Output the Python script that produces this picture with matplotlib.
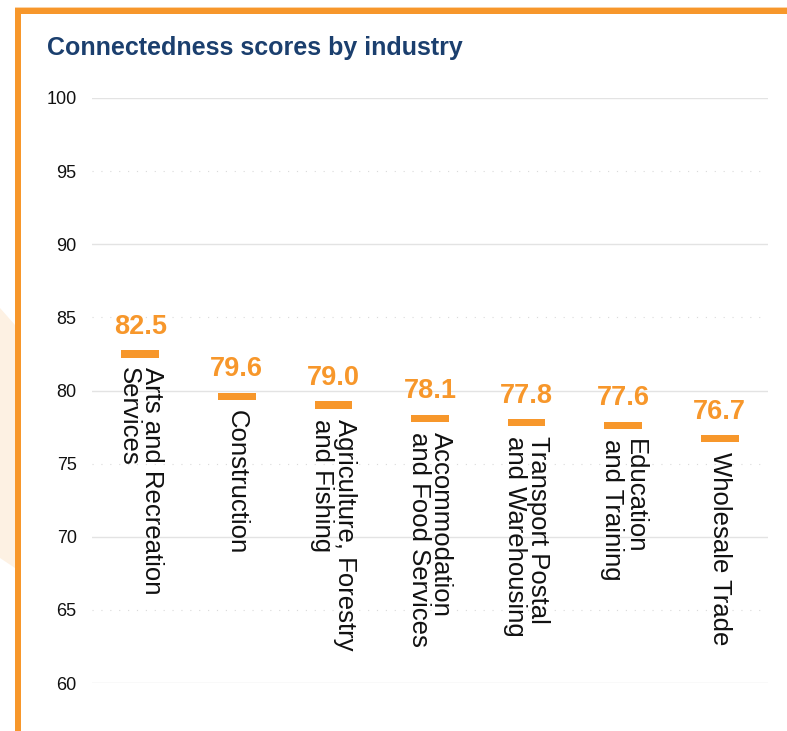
import matplotlib
matplotlib.use("Agg")
import matplotlib.pyplot as plt
from matplotlib.patches import Rectangle, Polygon

categories = ["Arts and Recreation\nServices", "Construction",
              "Agriculture, Forestry\nand Fishing", "Accommodation\nand Food Services",
              "Transport Postal\nand Warehousing", "Education\nand Training",
              "Wholesale Trade"]
scores = [82.5, 79.6, 79.0, 78.1, 77.8, 77.6, 76.7]
value_labels = ["82.5", "79.6", "79.0", "78.1", "77.8", "77.6", "76.7"]
yticks = [60, 65, 70, 75, 80, 85, 90, 95, 100]

ORANGE = "#F7972B"
NAVY = "#1B3F6E"

W, H = 787, 731
fig = plt.figure(figsize=(W / 100, H / 100), dpi=100)
fig.patch.set_facecolor("white")

# decorative peach shape on the left
fig.add_artist(Polygon([(0 / W, 1 - 308 / H), (15 / W, 1 - 325 / H),
                        (15 / W, 1 - 568 / H), (0 / W, 1 - 558 / H)],
                       closed=True, transform=fig.transFigure,
                       facecolor="#FDF1E3", edgecolor="none", zorder=0))
# orange border
fig.add_artist(Rectangle((15 / W, 0), 6 / W, 1 - 8 / H, transform=fig.transFigure,
                         facecolor=ORANGE, edgecolor="none", zorder=1))
fig.add_artist(Rectangle((15 / W, 1 - 14 / H), 1, 6 / H, transform=fig.transFigure,
                         facecolor=ORANGE, edgecolor="none", zorder=1))
fig.add_artist(Rectangle((15 / W, 1 - 8 / H), 1, 1.5 / H, transform=fig.transFigure,
                         facecolor="#FBD3A6", edgecolor="none", zorder=1))

fig.text(47 / W, 1 - 55 / H, "Connectedness scores by industry",
         fontsize=18, fontweight="bold", color=NAVY,
         family="Liberation Sans", ha="left", va="baseline")

ax = fig.add_axes([92 / W, 1 - 683 / H, (768 - 92) / W, (683 - 98) / H])
ax.set_facecolor("none")
ax.set_xlim(-0.5, len(categories) - 0.5)
ax.set_ylim(60, 100)

for t in yticks:
    if t % 10 == 0:
        ax.axhline(t, color="#E3E3E3", lw=1.0, zorder=0)
    else:
        ax.axhline(t, color="#DADADA", lw=0.8, ls=(0, (1, 7)), zorder=0)

x = list(range(len(categories)))
ax.bar(x, [0.5] * len(scores), bottom=[s - 0.25 for s in scores],
       width=0.39, color=ORANGE, zorder=3)

for xi, s, vl, cat in zip(x, scores, value_labels, categories):
    ax.annotate(vl, (xi, s), xytext=(0, 14.5), textcoords="offset points",
                ha="center", va="baseline", fontsize=19.5, fontweight="bold",
                color=ORANGE, family="Liberation Sans")
    ax.annotate(cat, (xi, s - 0.25), xytext=(0, -7), textcoords="offset points",
                ha="center", va="top", rotation=-90, fontsize=18.5,
                color="#111111", family="Liberation Sans",
                multialignment="left", linespacing=0.92)

ax.set_yticks(yticks)
ax.set_yticklabels([str(t) for t in yticks], fontsize=13, color="#111111",
                   family="Liberation Sans")
ax.set_xticks([])
ax.tick_params(axis="y", length=0, pad=11)
for sp in ax.spines.values():
    sp.set_visible(False)

fig.savefig("out.png", dpi=100)
